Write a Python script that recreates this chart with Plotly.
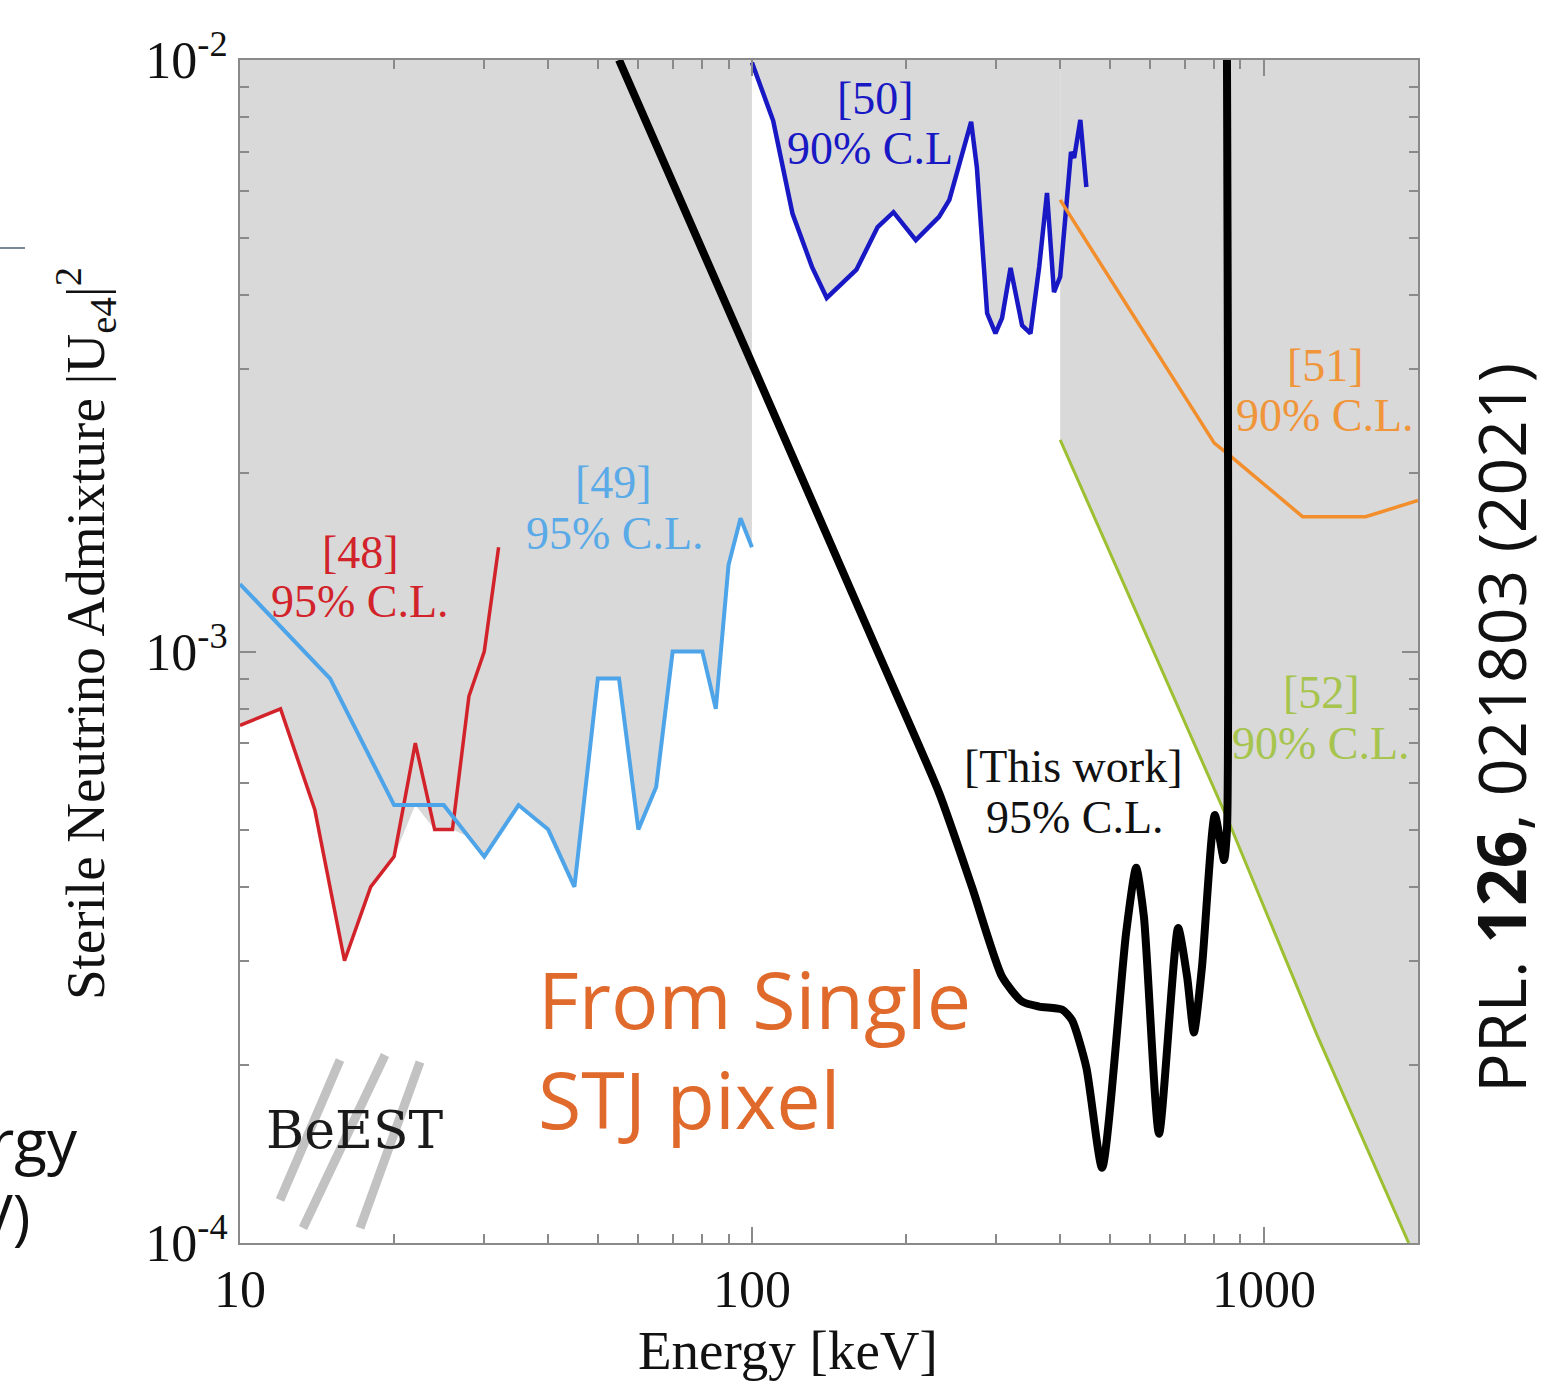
import numpy as np
import plotly.graph_objects as go

# ---------------- data ----------------
X_RANGE = (10, 2000)          # keV
Y_RANGE = (1e-4, 1e-2)        # |Ue4|^2

# [48] 95% C.L. (red)
red_E = [10, 12, 14, 16, 18, 20, 22, 24, 26, 28, 30, 32]
red_U = [7.5e-4, 8.0e-4, 5.4e-4, 3.0e-4, 4.0e-4, 4.5e-4, 7.0e-4, 5.0e-4, 5.0e-4, 8.4e-4, 1.0e-3, 1.5e-3]

# [49] 95% C.L. (light blue)
lb_E = [10, 15, 20, 25, 30, 35, 40, 45, 50, 55, 60, 65, 70, 80, 85, 90, 95, 100]
lb_U = [1.3e-3, 9.0e-4, 5.5e-4, 5.5e-4, 4.5e-4, 5.5e-4, 5.0e-4, 4.0e-4, 9.0e-4, 9.0e-4,
        5.0e-4, 5.9e-4, 1.0e-3, 1.0e-3, 8.0e-4, 1.4e-3, 1.68e-3, 1.5e-3]

# [50] 90% C.L. (dark blue)
db_E = [100, 110, 120, 131, 140, 160, 176, 189, 209, 232, 243, 268, 275, 288, 299, 308,
        320, 337, 350, 364, 377, 389, 400, 411, 420, 426, 438, 450]
db_U = [9.9e-3, 7.9e-3, 5.5e-3, 4.47e-3, 3.96e-3, 4.42e-3, 5.22e-3, 5.53e-3, 4.96e-3, 5.43e-3,
        5.8e-3, 7.86e-3, 6.59e-3, 3.73e-3, 3.45e-3, 3.66e-3, 4.45e-3, 3.56e-3, 3.45e-3, 4.47e-3,
        5.96e-3, 4.05e-3, 4.3e-3, 5.8e-3, 6.99e-3, 6.83e-3, 7.92e-3, 6.1e-3]

# [51] 90% C.L. (orange)
or_E = [400, 800, 855, 1190, 1580, 2000]
or_U = [5.8e-3, 2.25e-3, 2.15e-3, 1.69e-3, 1.69e-3, 1.8e-3]

# [52] 90% C.L. (green)
gr_E = [400, 854, 1269, 1918]
gr_U = [2.28e-3, 5.15e-4, 2.25e-4, 1.0e-4]

# This work, 95% C.L. (black)
bk_E = [55, 99, 176, 232, 269, 308, 337, 364, 404, 422, 450, 483, 538, 563, 583, 624,
        680, 708, 730, 757, 802, 836, 847, 847]
bk_U = [1.0e-2, 3.13e-3, 1.0e-3, 5.77e-4, 4.0e-4, 2.82e-4, 2.56e-4, 2.51e-4, 2.48e-4, 2.38e-4,
        1.98e-4, 1.34e-4, 3.34e-4, 4.31e-4, 3.56e-4, 1.53e-4, 3.41e-4, 2.82e-4, 2.27e-4, 2.93e-4,
        5.29e-4, 4.44e-4, 4.99e-4, 1.0e-2]

x_ticks = [10, 100, 1000]
x_ticktext = ["10", "100", "1000"]
y_ticks = [1e-4, 1e-3, 1e-2]
y_ticktext = ["10<sup>-4</sup>", "10<sup>-3</sup>", "10<sup>-2</sup>"]

# ---------------- styling ----------------
W, H = 1545, 1385
ML, MR, MT, MB = 240, 127, 60, 142
PW, PH = W - ML - MR, H - MT - MB

SERIF = "Liberation Serif, Times New Roman, serif"
SANS = "Open Sans, Lato, sans-serif"
GRAY = "#d9d9d9"
AX = "#8a8a8a"

def px(xp):
    return (xp - ML) / PW

def py(yp):
    return (H - MB - yp) / PH

fig = go.Figure()

top, bot = Y_RANGE[1], Y_RANGE[0]

# region A: union of [48] and [49] excluded regions (above lower envelope)
gridA = np.array(sorted(set(red_E) | set(lb_E)), dtype=float)
lr = np.interp(np.log10(gridA), np.log10(red_E), np.log10(red_U))
lr = np.where((gridA >= red_E[0]) & (gridA <= red_E[-1]), lr, np.inf)
lb = np.interp(np.log10(gridA), np.log10(lb_E), np.log10(lb_U))
envA = 10 ** np.minimum(lr, lb)
fig.add_trace(go.Scatter(x=list(gridA) + [lb_E[-1], lb_E[0]], y=list(envA) + [top, top],
                         fill="toself", fillcolor=GRAY, mode="none", hoverinfo="skip",
                         showlegend=False))

# region B: above [50] up to 400 keV
idx = [i for i, e in enumerate(db_E) if e <= or_E[0]]
bx = [db_E[i] for i in idx]
by = [db_U[i] for i in idx]
fig.add_trace(go.Scatter(x=bx + [bx[-1], bx[0]], y=by + [top, top],
                         fill="toself", fillcolor=GRAY, mode="none", hoverinfo="skip",
                         showlegend=False))

# region C: above [52]
fig.add_trace(go.Scatter(x=gr_E + [X_RANGE[1], X_RANGE[1], gr_E[0]],
                         y=gr_U + [bot, top, top],
                         fill="toself", fillcolor=GRAY, mode="none", hoverinfo="skip",
                         showlegend=False))

def line(x, y, color, width):
    fig.add_trace(go.Scatter(x=x, y=y, mode="lines", showlegend=False, hoverinfo="skip",
                             line=dict(color=color, width=width)))

line(red_E, red_U, "#d2222a", 3.5)
line(lb_E, lb_U, "#4ea4e8", 4)
line(db_E, db_U, "#1818c4", 4.5)
line(or_E, or_U, "#f28e2c", 3.5)
line(gr_E, gr_U, "#9dbf32", 3)
fig.add_trace(go.Scatter(x=bk_E, y=bk_U, mode="lines", showlegend=False, hoverinfo="skip",
                         line=dict(color="black", width=8, shape="spline", smoothing=0.6)))

ann = []
def label(text, xc, yc, color, size=46, font=SERIF, xanchor="center", angle=0):
    ann.append(dict(text=text, x=px(xc), y=py(yc), xref="paper", yref="paper",
                    showarrow=False, font=dict(family=font, size=size, color=color),
                    xanchor=xanchor, yanchor="middle", textangle=angle))

c48, c49, c50, c51, c52 = "#d2222a", "#5aaae8", "#1818c4", "#f0953a", "#a6c44e"
label("[48]", 360, 552, c48)
label("95% C.L.", 360, 601, c48)
label("[49]", 613, 482, c49)
label("95% C.L.", 615, 533, c49)
label("[50]", 875, 98, c50)
label("90% C.L", 870, 149, c50)
label("[51]", 1325, 365, c51)
label("90% C.L.", 1325, 415, c51)
label("[52]", 1321, 692, c52)
label("90% C.L.", 1321, 743, c52)
label("[This work]", 1073, 766, "#111111")
label("95% C.L.", 1075, 817, "#111111")

# axis titles
label("Sterile Neutrino Admixture |U<sub>e4</sub>|<sup>2</sup>", 85, 634, "#111111", size=55, angle=-90)
label("Energy [keV]", 788, 1350, "#111111", size=55)

# overlay texts
label("From Single", 536, 998, "#e0692c", size=79, font=SANS, xanchor="left")
label("STJ pixel", 536, 1098, "#e0692c", size=79, font=SANS, xanchor="left")
label("PRL. <b>126</b>, 021803 (2021)", 1500, 728, "#111111", size=66, font=SANS, angle=-90)
label("Energy", 80, 1140, "#111111", size=60, font=SANS, xanchor="right")
label("(keV)", 32, 1215, "#111111", size=60, font=SANS, xanchor="right")
label("BeEST", 355, 1130, "#1a1a1a", size=52, font="DejaVu Serif, serif")

shapes = []
# BeEST claw-mark streaks
for (x0, y0, x1, y1) in [(280, 1200, 340, 1060), (303, 1228, 385, 1055), (360, 1228, 420, 1062)]:
    shapes.append(dict(type="line", xref="paper", yref="paper", x0=px(x0), y0=py(y0),
                       x1=px(x1), y1=py(y1), line=dict(color="#c2c2c2", width=9)))
# leftover fragment line top-left
shapes.append(dict(type="line", xref="paper", yref="paper", x0=px(0), y0=py(248),
                   x1=px(25), y1=py(248), line=dict(color="#7a8898", width=2)))

minor_x = [m * 10 ** d for d in range(1, 4) for m in range(2, 10) if m * 10 ** d <= X_RANGE[1]]
minor_y = [m * 10.0 ** d for d in (-4, -3) for m in range(2, 10)]

axis_common = dict(showgrid=False, zeroline=False, showline=True, linecolor=AX, linewidth=2,
                   mirror="ticks", ticks="inside", ticklen=16, tickwidth=2, tickcolor=AX,
                   layer="above traces",
                   tickfont=dict(family=SERIF, size=52, color="#111111"))

fig.update_layout(
    width=W, height=H, margin=dict(l=ML, r=MR, t=MT, b=MB, autoexpand=False),
    paper_bgcolor="white", plot_bgcolor="white",
    xaxis=dict(type="log", range=[np.log10(X_RANGE[0]), np.log10(X_RANGE[1])],
               tickmode="array", tickvals=x_ticks, ticktext=x_ticktext,
               minor=dict(tickmode="array", tickvals=minor_x, ticks="inside", ticklen=9,
                          tickwidth=1.5, tickcolor=AX),
               **axis_common),
    yaxis=dict(type="log", range=[np.log10(Y_RANGE[0]), np.log10(Y_RANGE[1])],
               tickmode="array", tickvals=y_ticks, ticktext=y_ticktext,
               minor=dict(tickmode="array", tickvals=minor_y, ticks="inside", ticklen=9,
                          tickwidth=1.5, tickcolor=AX),
               **axis_common),
    annotations=ann, shapes=shapes,
)

fig.write_html("out.html", config={"displayModeBar": False},
               post_script="document.body.style.margin='0px';document.body.style.overflow='hidden';")
